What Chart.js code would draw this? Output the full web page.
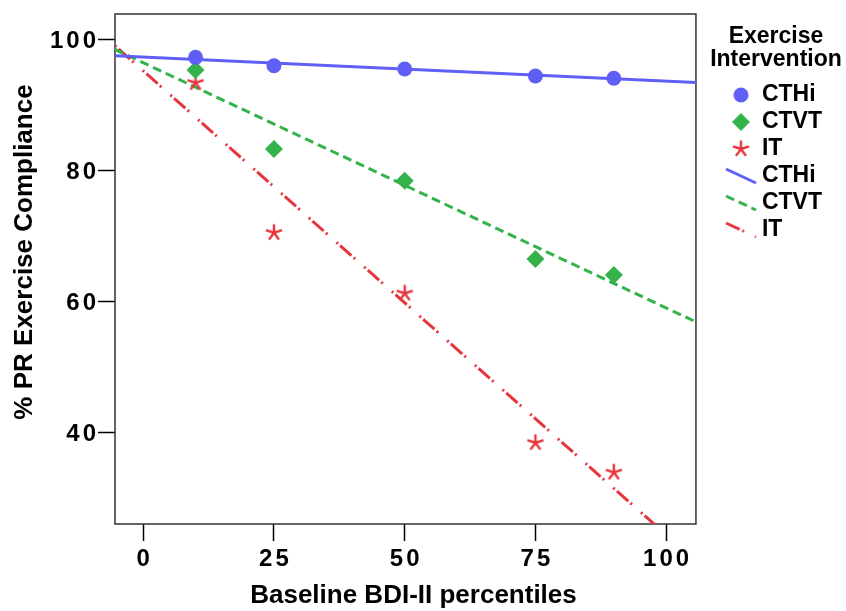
<!DOCTYPE html>
<html><head><meta charset="utf-8">
<script src="https://cdn.jsdelivr.net/npm/chart.js@4.4.1/dist/chart.umd.min.js"></script>
<style>html,body{margin:0;padding:0;background:#fff}#wrap{width:846px;height:611px;position:relative}</style>
</head><body><div id="wrap"><canvas id="c"></canvas></div>
<script>
// ---- data ----
const percentiles = [10, 25, 50, 75, 90];
const cthiValues = [97.25, 95.97, 95.47, 94.4, 94.05];
const ctvtValues = [95.32, 83.26, 78.43, 66.5, 64.04];
const itValues = [93.38, 70.5, 61.25, 38.46, 33.94];
const fitX = [-5.4, 105.7];
const fitCTHi = [97.5, 93.4];
const fitCTVT = [98.45, 56.9];
const fitIT = [99.0, 20.4];
const xTickValues = [0, 25, 50, 75, 100];
const xTickLabels = ['0', '25', '50', '75', '100'];
const yTickValues = [40, 60, 80, 100];
const yTickLabels = ['40', '60', '80', '100'];
const xRange = [-5.4, 105.7];
const yRange = [26.07, 103.86];
const seriesNames = ['CTHi', 'CTVT', 'IT'];
const legendTitle = ['Exercise', 'Intervention'];
const xTitle = 'Baseline BDI-II percentiles';
const yTitle = '% PR Exercise Compliance';

// ---- styles ----
const FONT = '"Liberation Sans", Arial, sans-serif';
const BLUE = '#5f5ff6', GREEN = '#33b34a', RED = '#e8343c';
const DASH_GREEN = [9, 5];
const DASH_RED = [2, 3, 15, 3, 2, 12];

function icon(w, h, dx, draw) {
  const c = document.createElement('canvas');
  c.width = w; c.height = h;
  const g = c.getContext('2d');
  g.translate(w / 2 + dx, h / 2);
  draw(g);
  return c;
}
const drawCircle = (r, col) => g => { g.fillStyle = col; g.beginPath(); g.arc(0, 0, r, 0, Math.PI * 2); g.fill(); };
const drawDiamond = (r, col) => g => { g.fillStyle = col; g.beginPath(); g.moveTo(0, -r); g.lineTo(r, 0); g.lineTo(0, r); g.lineTo(-r, 0); g.closePath(); g.fill(); };
const drawStar = (r, col) => g => {
  g.strokeStyle = col; g.lineWidth = 2.4; g.beginPath();
  for (let k = 0; k < 5; k++) { const a = -Math.PI / 2 + k * 2 * Math.PI / 5; g.moveTo(0, 0); g.lineTo(r * Math.cos(a), r * Math.sin(a)); }
  g.stroke();
};
const drawSeg = (col, dash, off) => g => {
  g.strokeStyle = col; g.lineWidth = 3; g.setLineDash(dash); g.lineDashOffset = off;
  g.beginPath(); g.moveTo(-15, -7); g.lineTo(15, 7); g.stroke();
};

const starPoint = icon(20, 20, 0, drawStar(8.5, RED));
const LDX = 15.75;
const legendIcons = [
  icon(68, 24, LDX, drawCircle(7.5, BLUE)),
  icon(68, 24, LDX, drawDiamond(9, GREEN)),
  icon(68, 24, LDX, drawStar(8.5, RED)),
  icon(68, 24, LDX, drawSeg(BLUE, [], 0)),
  icon(68, 24, LDX, drawSeg(GREEN, DASH_GREEN, 0)),
  icon(68, 24, LDX, drawSeg(RED, DASH_RED, 5))
];
const legendTexts = [seriesNames[0], seriesNames[1], seriesNames[2], seriesNames[0], seriesNames[1], seriesNames[2]];

const pts = ys => percentiles.map((x, i) => ({x, y: ys[i]}));
const fit = ys => fitX.map((x, i) => ({x, y: ys[i]}));

const framePlugin = {
  id: 'frame',
  beforeDatasetsDraw(chart) {
    const {ctx, chartArea: a} = chart;
    ctx.save(); ctx.strokeStyle = '#333'; ctx.lineWidth = 1.5;
    ctx.strokeRect(a.left, a.top, a.right - a.left, a.bottom - a.top);
    ctx.restore();
  }
};
const spacingPlugin = {
  id: 'tickSpacing',
  afterDatasetsDraw(chart) { chart.ctx.letterSpacing = '3px'; },
  afterDraw(chart) { chart.ctx.letterSpacing = '0px'; }
};
// shift legend title centre and axis-title centres to match the reference placement
const layoutTweaks = {
  id: 'layoutTweaks',
  afterLayout(chart) {
    if (chart.legend) { chart.legend.width += 24; chart.legend.right += 24; }
    const shift = (scale, key1, key2, d) => {
      if (scale.__shifted) return;
      scale.__shifted = true;
      const orig = scale.drawTitle;
      scale.drawTitle = function () {
        const a = this[key1], b = this[key2];
        this[key1] = a + d; this[key2] = b + d;
        orig.call(this);
        this[key1] = a; this[key2] = b;
      };
    };
    shift(chart.scales.y, 'top', 'bottom', -17);
    shift(chart.scales.x, 'left', 'right', 8);
  }
};

const tickFont = {family: FONT, size: 24, weight: 'bold'};
const titleFont = {family: FONT, size: 26, weight: 'bold'};
const gridOpts = {drawOnChartArea: false, drawTicks: true, tickLength: 17, tickColor: '#000', tickWidth: 1.5, color: '#000'};

new Chart(document.getElementById('c'), {
  type: 'scatter',
  data: {
    datasets: [
      {label: seriesNames[0], data: pts(cthiValues), backgroundColor: BLUE, borderWidth: 0, pointStyle: 'circle', pointRadius: 7.5},
      {label: seriesNames[1], data: pts(ctvtValues), backgroundColor: GREEN, borderWidth: 0, pointStyle: 'rectRot', pointRadius: 9},
      {label: seriesNames[2], data: pts(itValues), pointStyle: starPoint, pointRadius: 8},
      {label: seriesNames[0], data: fit(fitCTHi), showLine: true, borderColor: BLUE, borderWidth: 3, pointRadius: 0},
      {label: seriesNames[1], data: fit(fitCTVT), showLine: true, borderColor: GREEN, borderWidth: 3, borderDash: DASH_GREEN, pointRadius: 0},
      {label: seriesNames[2], data: fit(fitIT), showLine: true, borderColor: RED, borderWidth: 3, borderDash: DASH_RED, pointRadius: 0}
    ]
  },
  options: {
    responsive: true, maintainAspectRatio: false, animation: false, devicePixelRatio: 1,
    layout: {padding: {top: 14, right: 14, bottom: 0, left: 0}},
    scales: {
      x: {
        type: 'linear', min: xRange[0], max: xRange[1],
        afterBuildTicks: s => { s.ticks = xTickValues.map(v => ({value: v})); },
        afterFit: s => { s.height = 87; },
        ticks: {font: tickFont, color: '#000', padding: 3.5, labelOffset: 1.5, z: 1, maxRotation: 0, autoSkip: false,
                callback: (v, i) => xTickLabels[i]},
        grid: gridOpts, border: {display: false},
        title: {display: true, text: xTitle, font: titleFont, color: '#000', padding: {top: 0, bottom: 0}}
      },
      y: {
        type: 'linear', min: yRange[0], max: yRange[1],
        afterBuildTicks: s => { s.ticks = yTickValues.map(v => ({value: v})); },
        afterFit: s => { s.width = 115; },
        ticks: {font: tickFont, color: '#000', padding: -1, labelOffset: 2, z: 1, autoSkip: false,
                callback: (v, i) => yTickLabels[i]},
        grid: gridOpts, border: {display: false},
        title: {display: true, text: yTitle, font: titleFont, color: '#000', padding: {top: 9, bottom: 0}}
      }
    },
    plugins: {
      tooltip: {enabled: false},
      legend: {
        display: true, position: 'right', align: 'start',
        title: {display: true, text: legendTitle, position: 'center', color: '#000',
                font: {family: FONT, size: 23, weight: 'bold', lineHeight: 1}, padding: {top: 11.5, bottom: 31}},
        labels: {
          usePointStyle: true, pointStyleWidth: 50.5, boxHeight: 23, padding: 4, color: '#000',
          font: {family: FONT, size: 23, weight: 'bold'},
          generateLabels: () => legendTexts.map((t, i) => ({
            text: t, pointStyle: legendIcons[i], fillStyle: 'transparent', strokeStyle: 'transparent',
            lineWidth: 0, hidden: false, datasetIndex: i, fontColor: '#000'
          }))
        }
      }
    }
  },
  plugins: [framePlugin, spacingPlugin, layoutTweaks]
});
</script>
</body></html>
